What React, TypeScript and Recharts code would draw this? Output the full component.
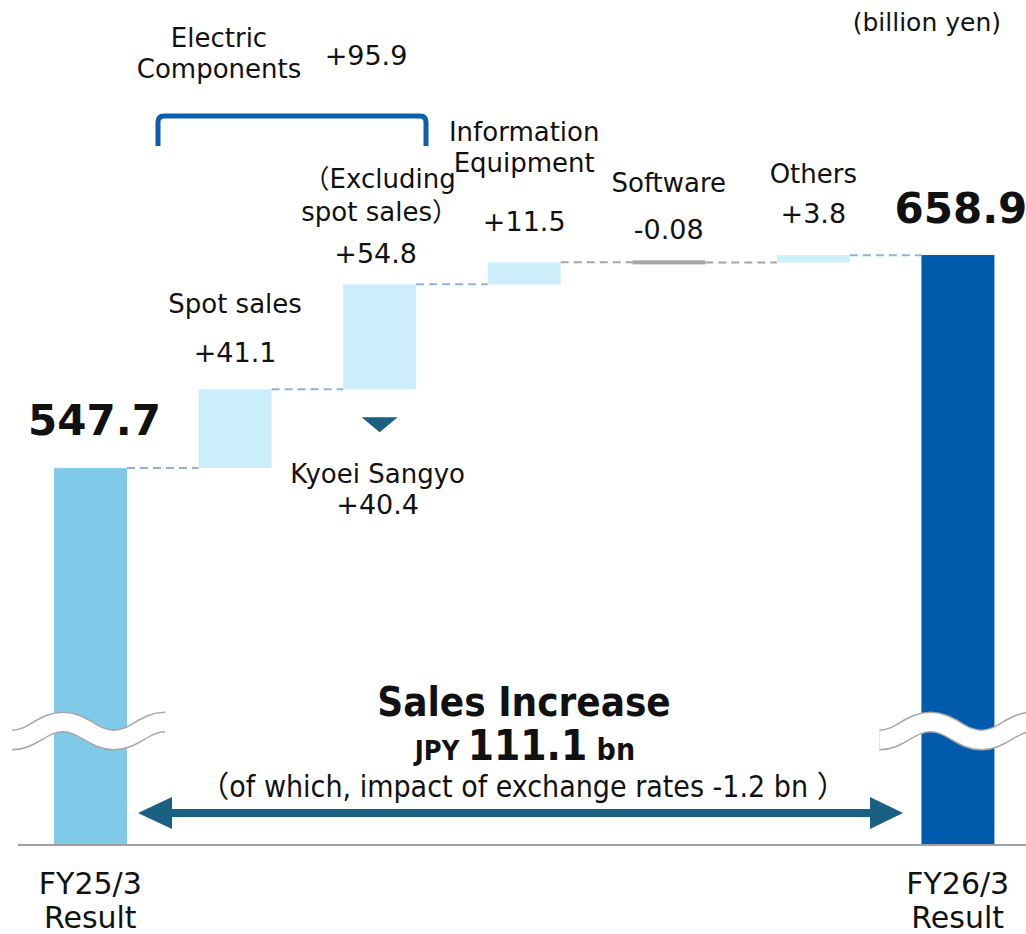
import React from 'react'
import { ComposedChart, Bar, XAxis, YAxis } from 'recharts'

// Categories along the x axis
const categories = ['FY25/3', 'Spot sales', 'Excluding spot sales', 'Information Equipment', 'Software', 'Others', 'FY26/3']
const nameLines: string[][] = [[], ['Spot sales'], ['（Excluding', 'spot sales）'], ['Information', 'Equipment'], ['Software'], ['Others'], []]
const tickLines: string[][] = [['FY25/3', 'Result'], [], [], [], [], [], ['FY26/3', 'Result']]

// Values (billion yen)
const startTotal = 547.7
const endTotal = 658.9
const changes = [41.1, 54.8, 11.5, -0.08, 3.8]
const electricComponents = 95.9
const kyoeiSangyo = 40.4
const salesIncrease = 111.1
const fxImpact = -1.2

// layout
const WIDTH = 1026
const HEIGHT = 934
const MARGIN = { top: 0, right: -4, bottom: 0, left: 18 }
const AXIS_H = 89
const STEP = (WIDTH - MARGIN.left - MARGIN.right) / categories.length
const Y_MIN = 351
const Y_MAX = 792

const FONT = '"DejaVu Sans", "Noto Sans CJK JP", sans-serif'
const COND = '"DejaVu Sans Condensed", "Liberation Sans Narrow", "DejaVu Sans", "Noto Sans CJK JP", sans-serif'

// label offsets from bar top (layout only)
const NAME_DY = [[], [-76], [-96, -63], [-121, -90], [-70], [-72], []]
const VALUE_DY = [-33, -27, -21, -31, -23, -32, -32]
const VALUE_DX = [4, 0, -4, 0, 0, 0, 3]

const fmt = (v: number) => (v > 0 ? '+' : '') + v

let running = startTotal
const chartData = categories.map((name, i) => {
  if (i === 0) return { name, idx: i, kind: 'start', value: startTotal, range: [Y_MIN, startTotal] }
  if (i === categories.length - 1) return { name, idx: i, kind: 'end', value: endTotal, range: [Y_MIN, endTotal] }
  const v = changes[i - 1]
  const from = running
  running += v
  return { name, idx: i, kind: v < 0 ? 'neg' : 'pos', value: v, range: [Math.min(from, running), Math.max(from, running)] }
})

const COLORS: Record<string, string> = {
  start: '#7fc9e9',
  end: '#005bac',
  pos: '#cceefb',
  neg: '#a6a6a6',
}

const wavePath = (x0: number, c: number) => {
  const h = 51
  const a = 9
  const pts = [
    [x0, c + a],
    [x0 + h, c - a],
    [x0 + 2 * h, c + a],
    [x0 + 3 * h, c - a],
  ]
  let d = `M${pts[0][0]},${pts[0][1]}`
  for (let k = 1; k < pts.length; k++) {
    const [xa, ya] = pts[k - 1]
    const [xb, yb] = pts[k]
    d += ` C${xa + h * 0.4},${ya} ${xb - h * 0.4},${yb} ${xb},${yb}`
  }
  return d
}

const WaterfallBar = (props: any) => {
  const { x, y, width, height, payload } = props
  const i = payload.idx
  const kind = payload.kind
  const isTotal = kind === 'start' || kind === 'end'
  let ry = y
  let rh = height
  if (rh < 4) {
    ry = y + height / 2 - 2
    rh = 4
  }
  const cx = x + width / 2
  const endY = kind === 'neg' ? y + height : y
  const next = chartData[i + 1]
  const connColor = kind === 'neg' || next?.kind === 'neg' ? '#a6a6a6' : '#8db3e2'
  const bottom = y + height
  return (
    <g>
      <rect x={x} y={ry} width={width} height={rh} fill={COLORS[kind]} />
      {isTotal && (
        <g fill="none">
          <path d={wavePath(x - 42, bottom - 114)} stroke="#a6a6a6" strokeWidth={21} />
          <path d={wavePath(x - 42, bottom - 114)} stroke="#ffffff" strokeWidth={18} />
        </g>
      )}
      {next && (
        <line x1={x + width} x2={x + STEP} y1={endY} y2={endY} stroke={connColor} strokeWidth={2} strokeDasharray="8 5" />
      )}
      {nameLines[i].map((t, k) => (
        <text key={k} x={cx} y={y + NAME_DY[i][k]} textAnchor="middle" fontFamily={FONT} fontSize={26} fill="#111">
          {t}
        </text>
      ))}
      <text
        x={cx + VALUE_DX[i]}
        y={y + VALUE_DY[i]}
        textAnchor="middle"
        fontFamily={FONT}
        fontSize={isTotal ? 42 : 27}
        fontWeight={isTotal ? 'bold' : 'normal'}
        fill="#111"
      >
        {isTotal ? payload.value.toFixed(1) : fmt(payload.value)}
      </text>
      {i === 2 && (
        <g>
          <polygon points={`${cx - 18},${bottom + 28} ${cx + 18},${bottom + 28} ${cx},${bottom + 43}`} fill="#1a6083" />
          <text x={cx - 2} y={bottom + 94} textAnchor="middle" fontFamily={FONT} fontSize={26} fill="#111">
            Kyoei Sangyo
          </text>
          <text x={cx - 2} y={bottom + 125} textAnchor="middle" fontFamily={FONT} fontSize={27} fill="#111">
            {fmt(kyoeiSangyo)}
          </text>
        </g>
      )}
    </g>
  )
}

const AxisTick = (props: any) => {
  const { x, y, payload } = props
  const lines = tickLines[categories.indexOf(payload.value)] || []
  return (
    <g>
      {lines.map((t, k) => (
        <text key={k} x={x} y={y + 49 + k * 34} textAnchor="middle" fontFamily={FONT} fontSize={30} fill="#111">
          {t}
        </text>
      ))}
    </g>
  )
}

export default function App() {
  return (
    <div style={{ position: 'absolute', left: 0, top: 0, width: WIDTH, height: HEIGHT, background: '#fff', overflow: 'hidden' }}>
      <ComposedChart width={WIDTH} height={HEIGHT} data={chartData} margin={MARGIN} barSize={73}>
        <XAxis
          dataKey="name"
          height={AXIS_H}
          tickLine={false}
          tickSize={0}
          tickMargin={0}
          interval={0}
          axisLine={{ stroke: '#a0a0a0', strokeWidth: 2 }}
          tick={<AxisTick />}
        />
        <YAxis hide type="number" domain={[Y_MIN, Y_MAX]} ticks={[Y_MIN, Y_MAX]} />
        <Bar dataKey="range" isAnimationActive={false} shape={<WaterfallBar />} />
      </ComposedChart>
      <svg width={WIDTH} height={HEIGHT} style={{ position: 'absolute', left: 0, top: 0, pointerEvents: 'none' }}>
        <text x={1001} y={31} textAnchor="end" fontFamily={FONT} fontSize={25} fill="#111">
          (billion yen)
        </text>
        <text x={219} y={47} textAnchor="middle" fontFamily={FONT} fontSize={26} fill="#111">
          Electric
        </text>
        <text x={219} y={78} textAnchor="middle" fontFamily={FONT} fontSize={26} fill="#111">
          Components
        </text>
        <text x={366} y={65} textAnchor="middle" fontFamily={FONT} fontSize={27} fill="#111">
          {fmt(electricComponents)}
        </text>
        <path d="M158,146 V122 Q158,116 164,116 H420 Q426,116 426,122 V146" fill="none" stroke="#0d5eaf" strokeWidth={5} />

        <text x={524} y={716} textAnchor="middle" fontFamily={COND} fontWeight="bold" fontSize={40} fill="#111">
          Sales Increase
        </text>
        <text x={525} y={760} textAnchor="middle" fontFamily={COND} fontWeight="bold" fill="#111">
          <tspan fontSize={27}>JPY </tspan>
          <tspan fontSize={42}>{salesIncrease}</tspan>
          <tspan fontSize={30}> bn</tspan>
        </text>
        <text x={523} y={797} textAnchor="middle" fontFamily={COND} fontSize={30} fill="#111">
          {`（of which, impact of exchange rates ${fxImpact} bn ）`}
        </text>
        <g fill="#1a6083">
          <rect x={168} y={809} width={706} height={8} />
          <polygon points="138,813 172,797 172,829" />
          <polygon points="903,813 870,797 870,829" />
        </g>
      </svg>
    </div>
  )
}
